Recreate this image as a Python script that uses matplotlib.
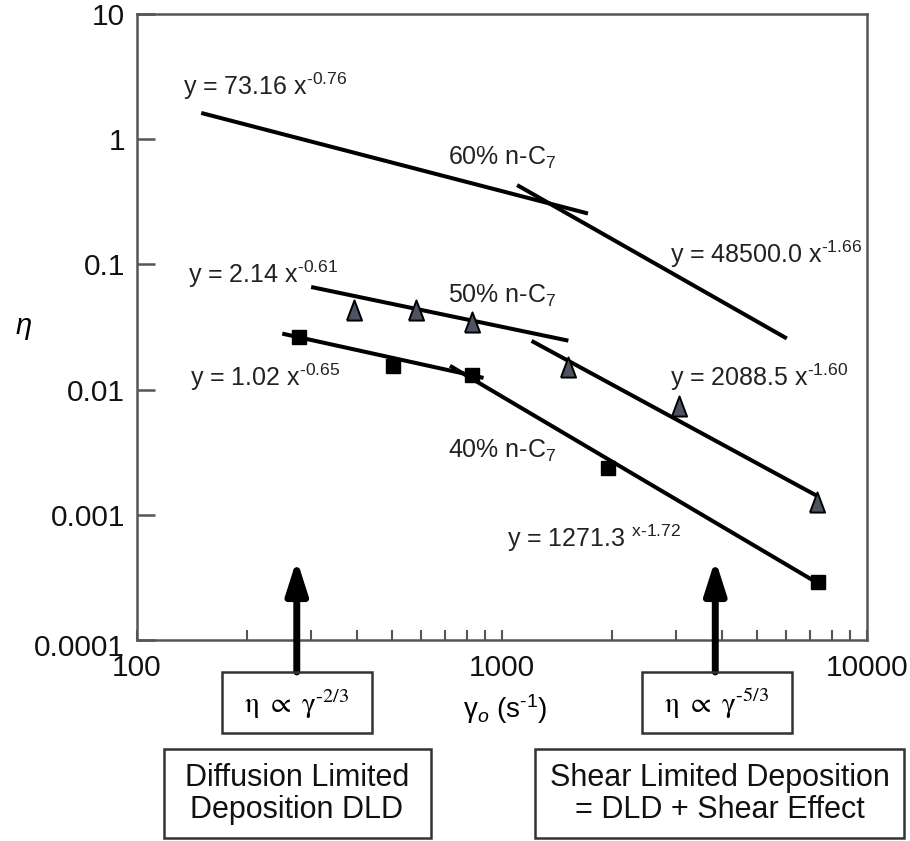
import matplotlib
matplotlib.use("Agg")
import matplotlib.pyplot as plt
from matplotlib.ticker import LogLocator, NullLocator, NullFormatter
from matplotlib.patches import Rectangle
import matplotlib.transforms as mtransforms

plt.rcParams['font.family'] = ['Liberation Sans', 'DejaVu Sans']
plt.rcParams['mathtext.fontset'] = 'custom'
plt.rcParams['mathtext.rm'] = 'Liberation Sans'
plt.rcParams['mathtext.it'] = 'Liberation Sans:italic'
plt.rcParams['mathtext.sf'] = 'Liberation Sans'
plt.rcParams['mathtext.bf'] = 'Liberation Sans:bold'

# ---------------- data ----------------
# fitted power-law segments (start/end of each drawn line)
seg_names = ["60% seg1", "60% seg2", "50% seg1", "50% seg2", "40% seg1", "40% seg2"]
seg_x0 = [150, 1100, 300, 1205, 250, 720]
seg_x1 = [1720, 6030, 1520, 7350, 890, 7400]
seg_y0 = [1.62, 0.43, 0.066, 0.0245, 0.028, 0.0155]
seg_y1 = [0.255, 0.0256, 0.0246, 0.0014, 0.0124, 0.00028]

# measured points
tri_x = [393, 581, 828, 1517, 3055, 7295]          # 50% n-C7
tri_y = [0.0433, 0.0433, 0.0347, 0.01515, 0.0074, 0.00126]
sq_x = [278, 502, 828, 1950, 7350]                  # 40% n-C7
sq_y = [0.0263, 0.01545, 0.0131, 0.00237, 0.00029]

# equation / series labels: (x, y_baseline, text)
H_ = "\u2010"  # short hyphen used as minus in the superscripts
lbl_x = [134, 711, 2886, 138, 711, 140, 711, 2886, 1033]
lbl_y = [2.25, 0.622, 0.1026, 0.0710, 0.0494, 0.01069, 0.00284, 0.0106, 0.000553]
lbl_txt = ["y = 73.16 x$^{" + H_ + "0.76}$",
           r"60% n-C$_{7}$",
           "y = 48500.0 x$^{" + H_ + "1.66}$",
           "y = 2.14 x$^{" + H_ + "0.61}$",
           r"50% n-C$_{7}$",
           "y = 1.02 x$^{" + H_ + "0.65}$",
           r"40% n-C$_{7}$",
           "y = 2088.5 x$^{" + H_ + "1.60}$",
           "y = 1271.3 $^{\\mathrm{x" + H_ + "1.72}}$"]

xticks = [100, 1000, 10000]
xtick_labels = ["100", "1000", "10000"]
yticks = [10, 1, 0.1, 0.01, 0.001, 0.0001]
ytick_labels = ["10", "1", "0.1", "0.01", "0.001", "0.0001"]

# arrows marking regimes: x position, tip y
arrow_x = [274, 3840]
arrow_tip_y = [0.00044, 0.00044]
regime_law = [r"$\mathrm{\eta}\ \propto\ \mathrm{\gamma}^{\mathit{" + H_ + "2/3}}$",
              r"$\mathrm{\eta}\ \propto\ \mathrm{\gamma}^{\mathit{" + H_ + "5/3}}$"]
regime_name = ["Diffusion Limited\nDeposition DLD",
               "Shear Limited Deposition\n= DLD + Shear Effect"]

# ---------------- figure ----------------
W, H = 910, 841
fig = plt.figure(figsize=(W / 100, H / 100), dpi=100)
ax = fig.add_axes([137 / W, 1 - 640 / H, (867 - 137) / W, (640 - 14) / H])
ax.set_xscale('log')
ax.set_yscale('log')
ax.set_xlim(100, 10000)
ax.set_ylim(1e-4, 10)

spine_c = '#555555'
for s in ax.spines.values():
    s.set_color(spine_c)
    s.set_linewidth(1.8)

ax.set_xticks(xticks, xtick_labels)
ax.set_yticks(yticks, ytick_labels)
ax.xaxis.set_minor_locator(LogLocator(base=10, subs=[2, 3, 4, 5, 6, 7, 8, 9]))
ax.xaxis.set_minor_formatter(NullFormatter())
ax.yaxis.set_minor_locator(NullLocator())
ax.tick_params(axis='y', which='major', direction='in', length=13, width=1.8,
               color=spine_c, pad=8.5, labelsize=21.5, labelcolor='#111111')
ax.tick_params(axis='x', which='both', direction='in', length=7, width=1.5,
               color=spine_c, pad=10, labelsize=21.5, labelcolor='#111111')

# nudge the bottom y label slightly down, as in the original
lab = ax.yaxis.get_major_ticks()[-1].label1
lab.set_transform(lab.get_transform() +
                  mtransforms.ScaledTranslation(0, -5 / 100, fig.dpi_scale_trans))

# fit lines
for x0, x1, y0, y1 in zip(seg_x0, seg_x1, seg_y0, seg_y1):
    ax.plot([x0, x1], [y0, y1], color='black', lw=2.9, solid_capstyle='butt', zorder=2)

# markers
tri_marker = [(-0.75, -1), (0.75, -1), (0, 1), (-0.75, -1)]
ax.plot(tri_x, tri_y, linestyle='none', marker=tri_marker, ms=14.5,
        mfc='#4f5361', mec='black', mew=1.4, zorder=3)
ax.plot(sq_x, sq_y, linestyle='none', marker='s', ms=10.5,
        mfc='black', mec='black', zorder=3)

for x, y, t in zip(lbl_x, lbl_y, lbl_txt):
    ax.text(x, y, t, fontsize=18, ha='left', va='baseline', color='#222222', zorder=4)

# axis labels
fig.text(23 / W, 1 - 328 / H, r"$\eta$", fontsize=21, ha='center', va='center')
fig.text(505 / W, 1 - 709 / H, r"$\mathrm{\gamma}_{\mathit{o}}\ (\mathrm{s}^{" + H_ + "1})$",
         fontsize=20, ha='center', va='center')

# arrows from boxes up into the plot
blend = mtransforms.blended_transform_factory(ax.transData, fig.transFigure)
for x, yt in zip(arrow_x, arrow_tip_y):
    ax.annotate('', xy=(x, yt), xycoords='data',
                xytext=(x, 1 - 672 / H), textcoords=blend,
                arrowprops=dict(arrowstyle='-|>,head_length=1.0,head_width=0.32',
                                mutation_scale=20, lw=5, color='black',
                                shrinkA=0, shrinkB=0),
                annotation_clip=False)

# boxes
def box(x0, y0, x1, y1):
    fig.add_artist(Rectangle((x0 / W, 1 - y1 / H), (x1 - x0) / W, (y1 - y0) / H,
                             transform=fig.transFigure, fill=False, lw=1.8,
                             ec='#333333', zorder=5))

box(222, 672, 372, 733)
box(642, 672, 792, 733)
box(164, 749, 431, 838)
box(535, 749, 904, 838)

fig.text(297 / W, 1 - 704 / H, regime_law[0], fontsize=21, ha='center', va='center',
         math_fontfamily='stix')
fig.text(717 / W, 1 - 704 / H, regime_law[1], fontsize=21, ha='center', va='center',
         math_fontfamily='stix')
fig.text(297 / W, 1 - 794 / H, regime_name[0], fontsize=22, ha='center', va='center',
         linespacing=1.12, color='#111111')
fig.text(719.5 / W, 1 - 794 / H, regime_name[1], fontsize=22, ha='center', va='center',
         linespacing=1.12, color='#111111')

fig.savefig("out.png", dpi=100)
